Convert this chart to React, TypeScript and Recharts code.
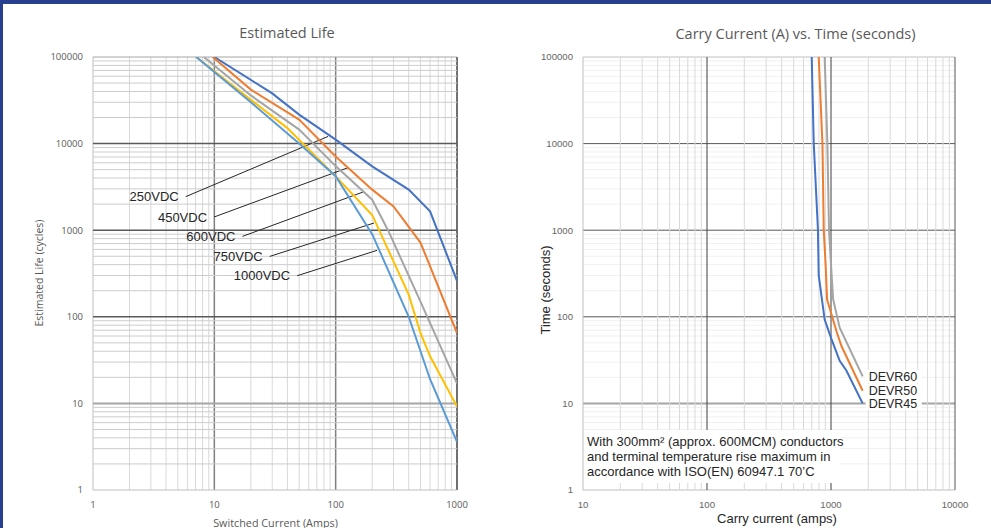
import React from "react";
import { LineChart, Line, XAxis, YAxis, ReferenceLine, ReferenceDot } from "recharts";

// log-axis helpers: 1..9 inside every decade
const STEPS = [1, 2, 3, 4, 5, 6, 7, 8, 9];

const lifeXDecades = [1, 10, 100, 1000];
const lifeYDecades = [1, 10, 100, 1000, 10000, 100000];
const carryXDecades = [10, 100, 1000, 10000];
const carryYDecades = [1, 10, 100, 1000, 10000, 100000];

// Estimated life: [switched current (A), cycles]
const life250VDC = [[10, 100000], [30, 38000], [50, 21600], [100, 11100], [200, 5450], [400, 2940], [600, 1650], [1000, 260]];
const life450VDC = [[9.7, 100000], [20, 42000], [50, 18900], [100, 7100], [200, 2940], [300, 1880], [500, 720], [1000, 65]];
const life600VDC = [[8.2, 100000], [20, 36000], [50, 14500], [100, 5500], [200, 2250], [270, 1000], [500, 150], [1000, 17]];
const life750VDC = [[7.1, 100000], [20, 32000], [40, 15100], [100, 4180], [200, 1500], [400, 180], [500, 65], [600, 35], [1000, 9.2]];
const life1000VDC = [[7.1, 100000], [20, 30000], [50, 10000], [100, 4200], [200, 900], [400, 100], [600, 19], [1000, 3.6]];

// Carry current: [current (A), seconds]
const devr45 = [[699, 100000], [726, 10000], [785, 1000], [796, 300], [889, 93], [1000, 57], [1175, 31], [1330, 24], [1800, 10]];
const devr50 = [[796, 100000], [853, 10000], [874, 1000], [906, 384], [930, 158], [1107, 68], [1214, 46], [1800, 14]];
const devr60 = [[889, 100000], [935, 10000], [964, 1000], [1000, 400], [1040, 160], [1175, 75], [1800, 20.5]];

const lifeSeries = [
  { name: "250VDC", data: life250VDC, color: "#4472C4", from: [5.81, 2440], to: [86.6, 12100] },
  { name: "450VDC", data: life450VDC, color: "#ED7D31", from: [9.95, 1420], to: [128, 5310] },
  { name: "600VDC", data: life600VDC, color: "#A5A5A5", from: [17.05, 848], to: [168, 2760] },
  { name: "750VDC", data: life750VDC, color: "#FFC000", from: [28.6, 498], to: [207, 1210] },
  { name: "1000VDC", data: life1000VDC, color: "#5B9BD5", from: [48.1, 298], to: [219, 585] },
];

const carrySeries = [
  { name: "DEVR45", data: devr45, color: "#4472C4" },
  { name: "DEVR50", data: devr50, color: "#ED7D31" },
  { name: "DEVR60", data: devr60, color: "#A5A5A5" },
];

const noteLines = [
  "With 300mm² (approx. 600MCM) conductors",
  "and terminal temperature rise maximum in",
  "accordance with ISO(EN) 60947.1 70’C",
];

const toPoints = (rows: number[][]) => rows.map(([x, y]) => ({ x, y }));

function logSteps(decades: number[]) {
  const out: number[] = [];
  decades.forEach((d, i) => {
    if (i === decades.length - 1) out.push(d);
    else STEPS.forEach((s) => out.push(s * d));
  });
  return out;
}

const OPEN = "'Open Sans', sans-serif";
const ARIAL = "'Liberation Sans', Arial, sans-serif";

type LineStyle = { stroke: string; width: number };

function gridLines(axis: "x" | "y", decades: number[], minor: string, majors: Record<number, LineStyle>) {
  const all = logSteps(decades);
  const minorEls = all
    .filter((v) => !decades.includes(v))
    .map((v) => (
      <ReferenceLine key={`${axis}m${v}`} {...{ [axis]: v }} stroke={minor} strokeWidth={1} ifOverflow="visible" />
    ));
  const majorEls = decades.map((v) => (
    <ReferenceLine
      key={`${axis}M${v}`}
      {...{ [axis]: v }}
      stroke={majors[v].stroke}
      strokeWidth={majors[v].width}
      ifOverflow="visible"
    />
  ));
  return [...minorEls, ...majorEls];
}

function SeriesTag({ viewBox, text }: any) {
  const x = viewBox.x + 3;
  const y = viewBox.y;
  return (
    <g>
      <rect x={x} y={y - 6.5} width={56} height={13} fill="#fff" />
      <text x={x + 3} y={y} dy="0.36em" fontSize={12.5} fontFamily={ARIAL} fill="#262626">
        {text}
      </text>
    </g>
  );
}

const abs = (style: React.CSSProperties): React.CSSProperties => ({ position: "absolute", whiteSpace: "nowrap", ...style });

function LifeChart() {
  return (
    <LineChart width={495} height={528} margin={{ top: 57, right: 38, bottom: 8, left: 33 }}>
      <XAxis
        dataKey="x"
        type="number"
        scale="log"
        domain={[1, 1000]}
        allowDataOverflow
        ticks={lifeXDecades}
        axisLine={false}
        tickLine={false}
        tickMargin={5}
        tick={{ fill: "#595959", fontSize: 9.5, fontFamily: OPEN }}
      />
      <YAxis
        dataKey="y"
        type="number"
        scale="log"
        domain={[1, 100000]}
        allowDataOverflow
        ticks={lifeYDecades}
        axisLine={false}
        tickLine={false}
        tickMargin={4}
        width={60}
        tick={{ fill: "#595959", fontSize: 9.5, fontFamily: OPEN }}
      />
      {gridLines("x", lifeXDecades, "#d9d9d9", {
        1: { stroke: "#bfbfbf", width: 1 },
        10: { stroke: "#808080", width: 1.5 },
        100: { stroke: "#808080", width: 1.5 },
        1000: { stroke: "#404040", width: 1.5 },
      })}
      {gridLines("y", lifeYDecades, "#cccccc", {
        1: { stroke: "#bfbfbf", width: 1 },
        10: { stroke: "#a6a6a6", width: 2 },
        100: { stroke: "#595959", width: 1.5 },
        1000: { stroke: "#595959", width: 1.5 },
        10000: { stroke: "#595959", width: 1.5 },
        100000: { stroke: "#a6a6a6", width: 1 },
      })}
      {lifeSeries.map((s) => (
        <ReferenceLine
          key={`seg-${s.name}`}
          segment={[
            { x: s.from[0], y: s.from[1] },
            { x: s.to[0], y: s.to[1] },
          ]}
          stroke="#262626"
          strokeWidth={1}
          ifOverflow="visible"
        />
      ))}
      {lifeSeries.map((s) => (
        <Line
          key={s.name}
          data={toPoints(s.data)}
          dataKey="y"
          name={s.name}
          stroke={s.color}
          strokeWidth={2}
          dot={false}
          isAnimationActive={false}
        />
      ))}
      {lifeSeries.map((s) => (
        <ReferenceDot
          key={`lbl-${s.name}`}
          x={s.from[0]}
          y={s.from[1]}
          r={0}
          fill="none"
          stroke="none"
          ifOverflow="visible"
          label={{ value: s.name, position: "left", offset: 7, fill: "#262626", fontSize: 13, fontFamily: ARIAL }}
        />
      ))}
    </LineChart>
  );
}

function CarryChart() {
  return (
    <LineChart width={496} height={528} margin={{ top: 57, right: 36, bottom: 8, left: 28 }}>
      <XAxis
        dataKey="x"
        type="number"
        scale="log"
        domain={[10, 10000]}
        allowDataOverflow
        ticks={carryXDecades}
        axisLine={false}
        tickLine={false}
        tickMargin={5}
        tick={{ fill: "#666666", fontSize: 9.6, fontFamily: ARIAL }}
      />
      <YAxis
        dataKey="y"
        type="number"
        scale="log"
        domain={[1, 100000]}
        allowDataOverflow
        ticks={carryYDecades}
        axisLine={false}
        tickLine={false}
        tickMargin={4}
        width={60}
        tick={{ fill: "#666666", fontSize: 9.6, fontFamily: ARIAL }}
      />
      {gridLines("y", carryYDecades, "#f0f0f0", {
        1: { stroke: "#bfbfbf", width: 1 },
        10: { stroke: "#a6a6a6", width: 2 },
        100: { stroke: "#595959", width: 1 },
        1000: { stroke: "#595959", width: 1 },
        10000: { stroke: "#595959", width: 1 },
        100000: { stroke: "#bfbfbf", width: 1 },
      })}
      {gridLines("x", carryXDecades, "#d9d9d9", {
        10: { stroke: "#bfbfbf", width: 1 },
        100: { stroke: "#404040", width: 1 },
        1000: { stroke: "#404040", width: 1 },
        10000: { stroke: "#595959", width: 1 },
      })}
      {carrySeries.map((s) => (
        <Line
          key={s.name}
          data={toPoints(s.data)}
          dataKey="y"
          name={s.name}
          stroke={s.color}
          strokeWidth={2}
          dot={false}
          isAnimationActive={false}
        />
      ))}
      {carrySeries.map((s) => {
        const last = s.data[s.data.length - 1];
        return (
          <ReferenceDot
            key={`tag-${s.name}`}
            x={last[0]}
            y={last[1]}
            r={0}
            fill="none"
            stroke="none"
            ifOverflow="visible"
            label={(p: any) => <SeriesTag viewBox={p.viewBox} text={s.name} />}
          />
        );
      })}
    </LineChart>
  );
}

export default function App() {
  return (
    <div style={{ position: "absolute", left: 0, top: 0, width: 991, height: 528, background: "#fff", overflow: "hidden" }}>
      <div style={abs({ left: 0, top: 0, width: 495 })}>
        <LifeChart />
      </div>
      <div style={abs({ left: 495, top: 0, width: 496 })}>
        <CarryChart />
      </div>

      {/* titles and axis captions */}
      <div style={abs({ left: 287, top: 31.5, transform: "translate(-50%, -50%)", fontFamily: OPEN, fontSize: 14.5, color: "#595959" })}>
        Estimated Life
      </div>
      <div style={abs({ left: 795.5, top: 33, transform: "translate(-50%, -50%)", fontFamily: OPEN, fontSize: 14.5, color: "#595959" })}>
        Carry Current (A) vs. Time (seconds)
      </div>
      <div style={abs({ left: 275.5, top: 521.5, transform: "translate(-50%, -50%)", fontFamily: OPEN, fontSize: 10.8, color: "#595959" })}>
        Switched Current (Amps)
      </div>
      <div
        style={abs({ left: 39, top: 273, transform: "translate(-50%, -50%) rotate(-90deg)", fontFamily: OPEN, fontSize: 10.5, color: "#595959" })}
      >
        Estimated Life (cycles)
      </div>
      <div style={abs({ left: 777, top: 518, transform: "translate(-50%, -50%)", fontFamily: ARIAL, fontSize: 13, color: "#262626" })}>
        Carry current (amps)
      </div>
      <div
        style={abs({ left: 545, top: 290, transform: "translate(-50%, -50%) rotate(-90deg)", fontFamily: ARIAL, fontSize: 13, color: "#262626" })}
      >
        Time (seconds)
      </div>

      {/* note box on the carry chart */}
      <div
        style={abs({
          left: 584,
          top: 430,
          width: 256,
          height: 53,
          background: "#fff",
          padding: "4px 0 0 3px",
          boxSizing: "border-box",
          fontFamily: ARIAL,
          fontSize: 13,
          lineHeight: "15px",
          color: "#262626",
        })}
      >
        {noteLines.map((t) => (
          <div key={t}>{t}</div>
        ))}
      </div>

      {/* page frame */}
      <div style={abs({ left: 0, top: 0, width: 991, height: 4, background: "#263f8e" })} />
      <div style={abs({ left: 0, top: 0, width: 2.5, height: 528, background: "#263f8e" })} />
    </div>
  );
}
